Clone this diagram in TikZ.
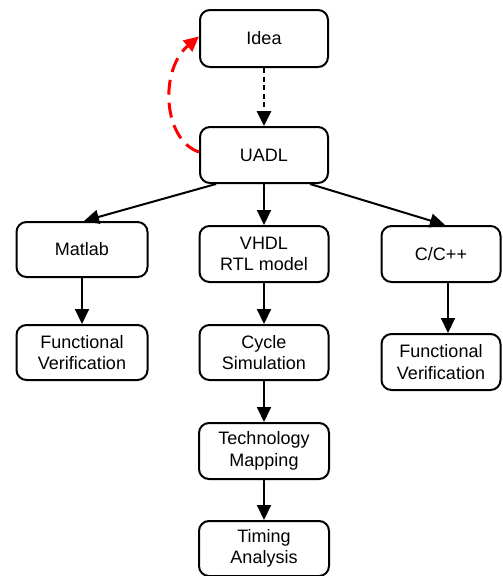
\documentclass[tikz,border=0pt]{standalone}
\usepackage{fontspec}
\setmainfont{Liberation Sans}
\usetikzlibrary{arrows.meta}
\begin{document}
\begin{tikzpicture}[x=1pt,y=-1pt,
  box/.style={draw, line width=2pt, rounded corners=10pt, align=center,
    font=\fontsize{18}{21.5}\selectfont, inner sep=0pt},
  arr/.style={line width=2pt, -{Triangle[length=15pt,width=14pt]}},
  feedback/.style={draw=red, line width=3pt, dash pattern=on 15pt off 8pt,
    -{Triangle[length=15pt,width=14pt]}}]
\useasboundingbox (0,0) rectangle (503,576);
% box: centre and size
\newcommand{\boxat}[6]{\node[box, minimum width=#4, minimum height=#5] (#1) at (#2,#3) {#6};}
\boxat{idea}{264}{38.5}{128pt}{57pt}{Idea}
\boxat{uadl}{264}{155}{128pt}{56pt}{UADL}
\boxat{matlab}{82}{249.5}{131pt}{55pt}{Matlab}
\boxat{vhdl}{264}{254}{129pt}{56pt}{VHDL\\RTL model}
\boxat{cpp}{441}{254}{119pt}{56pt}{C/C++}
\boxat{fvl}{82}{352.5}{131pt}{55pt}{Functional\\Verification}
\boxat{cyc}{264}{352.5}{129pt}{55pt}{Cycle\\Simulation}
\boxat{fvr}{441}{362}{119pt}{56pt}{Functional\\Verification}
\boxat{tech}{264}{451}{130pt}{56pt}{Technology\\Mapping}
\boxat{timing}{264}{548.5}{130pt}{55pt}{Timing\\Analysis}
% flow
\draw[line width=2.6pt, dash pattern=on 5pt off 3.5pt, -{Triangle[length=15pt,width=14pt]}]
  (idea.south) -- (uadl.north);
\draw[arr] ([xshift=-48pt]uadl.south) -- ([xshift=2pt]matlab.north);
\draw[arr] (uadl.south) -- (vhdl.north);
\draw[arr] ([xshift=46pt]uadl.south) -- ([xshift=4pt]cpp.north);
\draw[arr] (matlab.south) -- (fvl.north);
\draw[arr] (vhdl.south) -- (cyc.north);
\draw[arr] ([xshift=7pt]cpp.south) -- ([xshift=7pt]fvr.north);
\draw[arr] (cyc.south) -- (tech.north);
\draw[arr] (tech.south) -- (timing.north);
% feedback loop
\draw[feedback] ([yshift=3pt]uadl.west) .. controls (163,140) and (159,70) .. ([yshift=2pt]idea.west);
\end{tikzpicture}
\end{document}
